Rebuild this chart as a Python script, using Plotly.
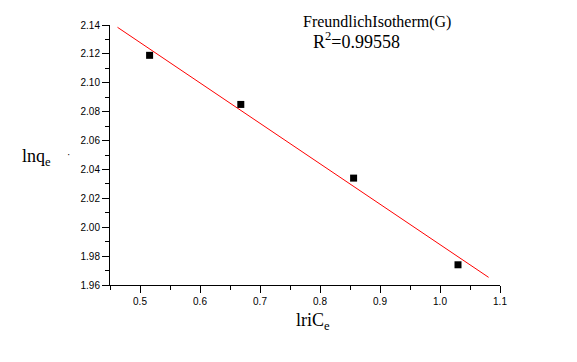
import plotly.graph_objects as go

x_data = [0.516, 0.668, 0.856, 1.030]
y_data = [2.119, 2.085, 2.034, 1.974]
fit_x = [0.4625, 1.081]
fit_y = [2.1384, 1.9653]
x_ticks = [0.5, 0.6, 0.7, 0.8, 0.9, 1.0, 1.1]
x_ticklabels = ["0.5", "0.6", "0.7", "0.8", "0.9", "1.0", "1.1"]
y_ticks = [1.96, 1.98, 2.00, 2.02, 2.04, 2.06, 2.08, 2.10, 2.12, 2.14]
y_ticklabels = ["1.96", "1.98", "2.00", "2.02", "2.04", "2.06", "2.08", "2.10", "2.12", "2.14"]

# page body has an 8px default margin, so the figure is sized/offset accordingly
OFF = 8
W, H = 577 - OFF, 362 - OFF
l, r, t, b = 110 - OFF, 77, 25 - OFF, 77
pw, ph = W - l - r, H - t - b

def px(x):
    return (x - OFF - l) / pw

def py(y):
    return (H - b - (y - OFF)) / ph

fig = go.Figure()
fig.add_trace(go.Scatter(x=fit_x, y=fit_y, mode="lines",
                         line=dict(color="#ff0000", width=1), showlegend=False))
fig.add_trace(go.Scatter(x=x_data, y=y_data, mode="markers",
                         marker=dict(symbol="square", size=7, color="black"), showlegend=False))

tickfont = dict(family="Liberation Sans, Arial", size=10, color="#000000")
serif = "Liberation Serif, Times New Roman"
fig.update_layout(
    width=W, height=H,
    margin=dict(l=l, r=r, t=t, b=b),
    paper_bgcolor="white", plot_bgcolor="white",
    xaxis=dict(range=[0.45, 1.1], tickvals=x_ticks, ticktext=x_ticklabels,
               showgrid=False, zeroline=False, showline=True, linecolor="black", linewidth=1,
               ticks="outside", ticklen=7, tickcolor="black", tickfont=tickfont,
               minor=dict(tickvals=[0.45, 0.55, 0.65, 0.75, 0.85, 0.95, 1.05],
                          ticks="outside", ticklen=4, tickcolor="black")),
    yaxis=dict(range=[1.96, 2.14], tickvals=y_ticks, ticktext=y_ticklabels,
               showgrid=False, zeroline=False, showline=True, linecolor="black", linewidth=1,
               ticks="outside", ticklen=7, tickcolor="black", tickfont=tickfont,
               minor=dict(tickvals=[1.97, 1.99, 2.01, 2.03, 2.05, 2.07, 2.09, 2.11, 2.13],
                          ticks="outside", ticklen=4, tickcolor="black")),
    annotations=[
        dict(text="lnq<sub>e</sub>", x=px(20), y=py(157), xref="paper", yref="paper", showarrow=False,
             font=dict(family=serif, size=18, color="black"),
             xanchor="left", yanchor="middle"),
        dict(text="lriC<sub>e</sub>", x=px(313), y=py(321), xref="paper", yref="paper",
             showarrow=False, font=dict(family=serif, size=18, color="black"),
             xanchor="center", yanchor="middle"),
        dict(text="FreundlichIsotherm(G)", x=px(377), y=py(22), xref="paper", yref="paper",
             showarrow=False, font=dict(family=serif, size=16, color="black"),
             xanchor="center", yanchor="middle"),
        dict(text="R<sup>2</sup>=0.99558", x=px(356), y=py(40), xref="paper", yref="paper",
             showarrow=False, font=dict(family=serif, size=18, color="black"),
             xanchor="center", yanchor="middle"),
        dict(text="·", x=px(68), y=py(154), xref="paper", yref="paper", showarrow=False,
             font=dict(family="Liberation Sans", size=10, color="black"),
             xanchor="center", yanchor="middle"),
    ],
)
fig.write_html("out.html")
